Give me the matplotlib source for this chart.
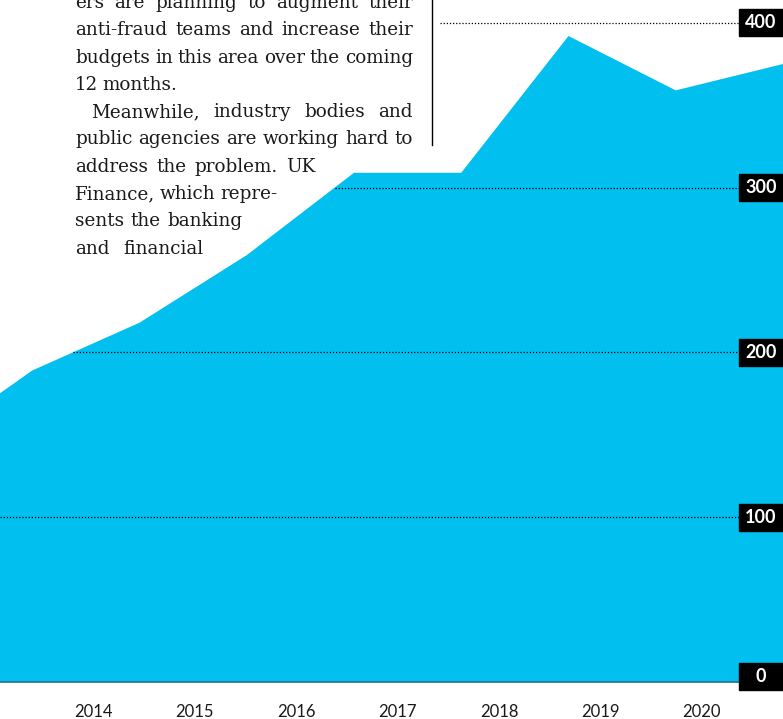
import matplotlib
matplotlib.use("Agg")
import matplotlib.pyplot as plt
import numpy as np
from matplotlib.patches import Rectangle
import matplotlib.transforms as mtransforms

# data (2012 is only the clipped lead-in at the left edge)
years = np.array([2012, 2013, 2014, 2015, 2016, 2017, 2018, 2019, 2020])
values = np.array([143, 189, 218, 259, 309, 309, 392, 359, 375])
tick_labels = ["2014", "2015", "2016", "2017", "2018", "2019", "2020"]
y_ticks = [0, 100, 200, 300, 400]

body_lines = [
    "ers are planning to augment their",
    "anti-fraud teams and increase their",
    "budgets in this area over the coming",
    "12 months.",
    "Meanwhile, industry bodies and",
    "public agencies are working hard to",
    "address the problem. UK",
    "Finance, which repre-",
    "sents the banking",
    "and financial",
]

W, H = 783, 719
fig = plt.figure(figsize=(W / 100, H / 100), dpi=100)
ax = fig.add_axes([0, 0, 1, 1])
x0, x1 = 2012.70, 2020.0
px_val = 164.8 / 100          # pixels per unit
base_px = 682
ax.set_xlim(x0, x1)
ax.set_ylim(-(H - base_px) / px_val, base_px / px_val)
ax.axis("off")

cyan = "#01c0ef"
ax.fill_between(years, 0, values, color=cyan, lw=0, zorder=1)
ax.axhline(0, color="#236f88", lw=1.2, zorder=4)

# dotted grid: hidden above the area where the article text sits
box_w = 44 / W
rule_x = 2013 + (440 - 32) / 107.3
xs = np.linspace(x0, rule_x, 2000)
curve = np.interp(xs, years, values)
for v in y_ticks[1:]:
    above = np.nonzero(curve >= v)[0]
    start = xs[above[0]] if len(above) else rule_x
    ax.plot([start, x1 - box_w * (x1 - x0)], [v, v], color="black", lw=0.9,
            ls=(0, (1, 1.5)), zorder=2)

# right-hand value boxes
trans = mtransforms.blended_transform_factory(ax.transAxes, ax.transData)
box_h = 27 / px_val
for v in y_ticks:
    yc = v if v > 0 else 3.5
    ax.add_patch(Rectangle((1 - box_w, yc - box_h / 2), box_w, box_h,
                           transform=trans, color="black", zorder=5, clip_on=False))
    ax.text(1 - box_w / 2, yc, str(v), transform=trans, ha="center", va="center",
            color="white", fontsize=13, fontweight="bold", family="Lato", zorder=6)

# year labels
tick_x = 2013 + (93 - 32) / 107.3 + np.arange(len(tick_labels)) * (101.5 / 107.3)
for tx, lab in zip(tick_x, tick_labels):
    ax.text(tx, -18, lab, ha="center", va="center", fontsize=12,
            family="Lato", color="#1a1a1a")

# vertical rule beside the text
fig.add_artist(plt.Line2D([432 / W, 432 / W], [1, 1 - 145 / H], color="black", lw=1))

# justified article text
left = 75
rights = [413, 413, 413, None, 413, 413, 315, 277, 243, 203]
indent = [0, 0, 0, 0, 16, 0, 0, 0, 0, 0]
fs = 13.2
renderer = fig.canvas.get_renderer()
for i, line in enumerate(body_lines):
    base_y = 1 - (8 + 27.3 * i) / H
    words = line.split(" ")
    texts = [fig.text(0, base_y, w, fontsize=fs, family="DejaVu Serif",
                      va="baseline", color="#1a1a1a") for w in words]
    widths = [t.get_window_extent(renderer).width for t in texts]
    start = left + indent[i]
    if rights[i] is None or len(words) == 1:
        gap = 0.25 * fs * 100 / 72
    else:
        gap = (rights[i] - start - sum(widths)) / (len(words) - 1)
    x = start
    for t, w in zip(texts, widths):
        t.set_x(x / W)
        x += w + gap

fig.savefig("out.png", dpi=100)
